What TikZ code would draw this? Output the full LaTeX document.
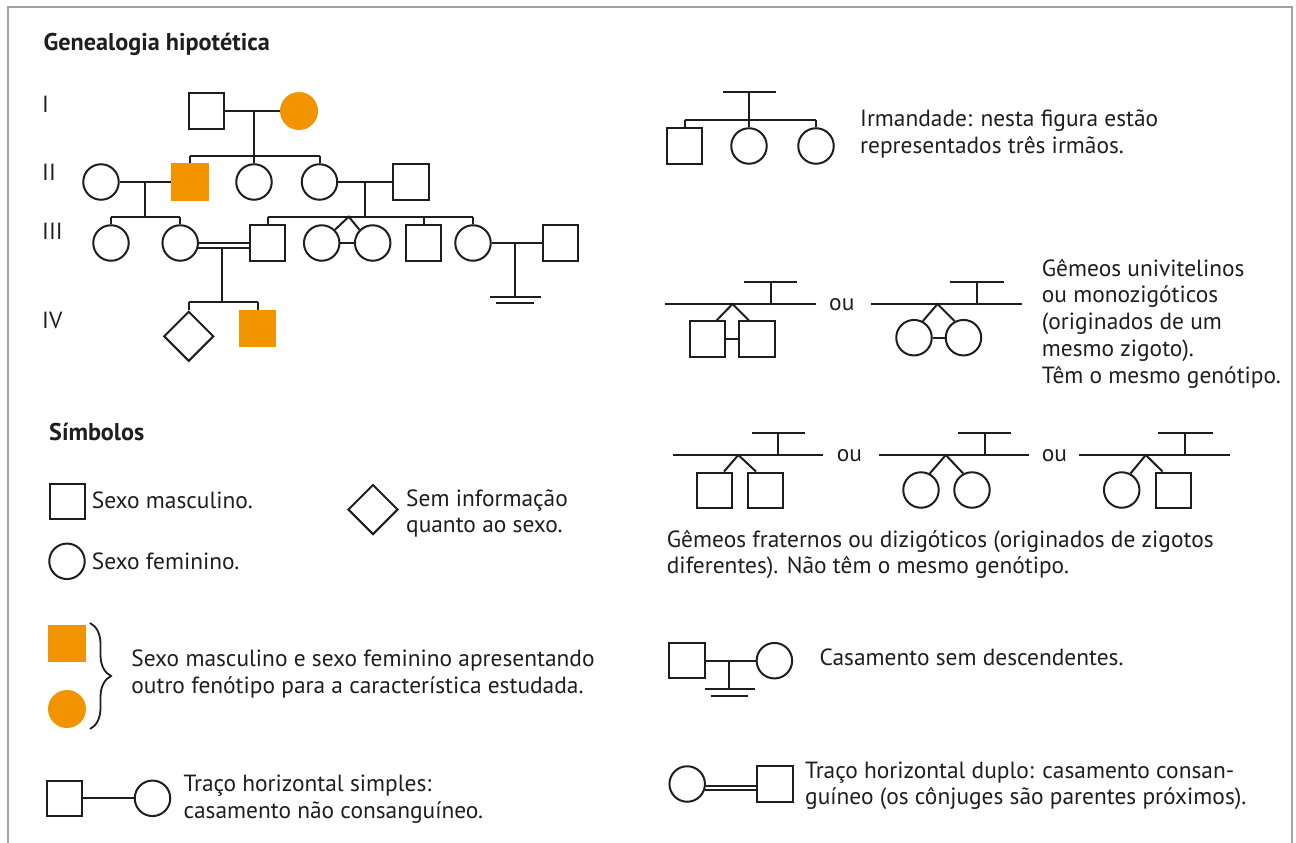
\documentclass[tikz,border=0pt]{standalone}
\usepackage{fontspec}
\setmainfont{PT Sans}
\usetikzlibrary{shapes.geometric,calc,decorations.pathreplacing}
\definecolor{ink}{RGB}{30,30,30}
\definecolor{framegray}{RGB}{163,163,163}
\definecolor{affected}{RGB}{242,148,0}
\tikzset{
  ln/.style={draw=ink,line width=2pt},
  male/.style={rectangle,draw=ink,line width=2pt,minimum size=35.5pt,inner sep=0pt},
  female/.style={circle,draw=ink,line width=2pt,minimum size=35.5pt,inner sep=0pt},
  unknown/.style={diamond,aspect=1,draw=ink,line width=2pt,minimum size=50pt,inner sep=0pt},
  affm/.style={rectangle,fill=affected,minimum size=37.5pt,inner sep=0pt},
  afff/.style={circle,fill=affected,minimum size=38pt,inner sep=0pt},
  txt/.style={anchor=base west,inner sep=0pt,font=\fontsize{23.4}{28}\selectfont,text=ink},
  head/.style={anchor=base west,inner sep=0pt,font=\fontsize{24.2}{29}\selectfont\bfseries,text=ink},
}
\begin{document}
\begin{tikzpicture}[x=1pt,y=-1pt]
\useasboundingbox (0,0) rectangle (1296,843);
% open frame
\draw[framegray,line width=2pt] (8.3,843) -- (8.3,6.7) -- (1292.3,6.7) -- (1292.3,843);

% ---------------- pedigree ----------------
\node[head] (title) at (43.5,51) {Genealogia hipotética};
\node[txt] (gI)   at (42,112.7) {I};
\node[txt] (gII)  at (42,180)   {II};
\node[txt] (gIII) at (42,239.3) {III};
\node[txt] (gIV)  at (42,328.3) {IV};

% generation I
\node[male] (p1) at (206.5,111) {};
\node[afff] (p2) at (299,111) {};
\draw[ln] (p1.east) -- (p2.west);
\coordinate (m1) at (254,111);
\coordinate (s1) at (254,156);
\draw[ln] (m1) -- (s1);

% generation II
\node[female] (q1) at (101,182) {};
\node[affm]   (q2) at (190,182) {};
\node[female] (q3) at (254,182) {};
\node[female] (q4) at (319.5,182) {};
\node[male]   (q5) at (411,182) {};
\draw[ln] (s1 -| q2) -- (s1 -| q4);
\draw[ln] (q2.north) -- (q2.north |- s1);
\draw[ln] (q3.north) -- (q3.north |- s1);
\draw[ln] (q4.north) -- (q4.north |- s1);
\draw[ln] (q1.east) -- (q2.west);
\draw[ln] (q4.east) -- (q5.west);
\coordinate (m2) at (145,182);
\coordinate (s2) at (145,216.7);
\coordinate (m3) at (364.6,182);
\coordinate (s3) at (364.6,216.7);
\draw[ln] (m2) -- (s2);
\draw[ln] (m3) -- (s3);

% generation III
\node[female] (r1) at (111,243) {};
\node[female] (r2) at (180.2,243) {};
\node[male]   (r3) at (267.5,243) {};
\node[female] (r4) at (321.7,243) {};
\node[female] (r5) at (372.7,243) {};
\node[male]   (r6) at (423.7,243) {};
\node[female] (r7) at (473,243) {};
\node[male]   (r8) at (560.4,243) {};
\draw[ln] (s2 -| r1) -- (s2 -| r2);
\draw[ln] (r1.north) -- (r1.north |- s2);
\draw[ln] (r2.north) -- (r2.north |- s2);
\draw[ln] (s3 -| r3) -- (s3 -| r7);
\draw[ln] (r3.north) -- (r3.north |- s3);
\draw[ln] (r6.north) -- (r6.north |- s3);
\draw[ln] (r7.north) -- (r7.north |- s3);
% identical twins
\coordinate (tw) at (348.75,216.7);
\draw[ln] (r4.45) -- (tw) -- (r5.135);
\draw[ln] (r4.east) -- (r5.west);
% consanguineous marriage
\draw[ln] (r2.east) -- (r3.west);
\draw[ln] (r2.-17) -- (r2.-17 -| r3.west);
\coordinate (m4) at (222.3,248.3);
\coordinate (s4) at (222.3,302.3);
\draw[ln] (m4) -- (s4);
% marriage without offspring
\draw[ln] (r7.east) -- (r8.west);
\coordinate (m5) at (515.4,243);
\coordinate (n5) at (515.4,296.7);
\draw[ln] (m5) -- (n5);
\draw[ln] (489.6,296.7) -- (540.8,296.7);
\draw[ln] (495.8,302.7) -- (533.8,302.7);

% generation IV
\node[unknown] (u1) at (188.75,336.3) {};
\node[affm]    (u2) at (257.7,328.5) {};
\draw[ln] (s4 -| u1) -- (s4 -| u2);
\draw[ln] (u1.north) -- (u1.north |- s4);
\draw[ln] (u2.north) -- (u2.north |- s4);

% ---------------- symbols ----------------
\node[head] (simb) at (49,440) {Símbolos};

\node[male] (lm) at (67.5,501.3) {};
\node[txt] (lmt) at (91.7,508.3) {Sexo masculino.};
\node[female] (lf) at (67,561.3) {};
\node[txt] (lft) at (91.7,569) {Sexo feminino.};
\node[unknown] (lu) at (373,509.5) {};
\node[txt] (lut1) at (406,506.7) {Sem informação};
\node[txt] (lut2) at (406,532.7) {quanto ao sexo.};

\node[affm] (la1) at (67.1,643.5) {};
\node[afff] (la2) at (67,709) {};
\coordinate (br1) at (90,623);
\coordinate (br2) at (90,729);
\draw[ln,line width=1.8pt,decorate,decoration={brace,amplitude=21pt,aspect=0.5}] (br1) -- (br2);
\node[txt] (lat1) at (131.25,666.7) {Sexo masculino e sexo feminino apresentando};
\node[txt] (lat2) at (131.25,693.3) {outro fenótipo para a característica estudada.};

\node[male] (sm1) at (64.6,798.3) {};
\node[female] (sm2) at (152.5,798.3) {};
\draw[ln] (sm1.east) -- (sm2.west);
\node[txt] (smt1) at (183.3,791.7) {Traço horizontal simples:};
\node[txt] (smt2) at (183.3,818.3) {casamento não consanguíneo.};

% sibship
\node[male]   (ir1) at (684.6,146) {};
\node[female] (ir2) at (749,146) {};
\node[female] (ir3) at (816,146) {};
\coordinate (irb1) at (723,92.3);
\coordinate (irb2) at (776,92.3);
\coordinate (irm) at (749,92.3);
\coordinate (irs) at (749,120);
\draw[ln] (irb1) -- (irb2);
\draw[ln] (irm) -- (irs);
\draw[ln] (irs -| ir1) -- (irs -| ir3);
\draw[ln] (ir1.north) -- (ir1.north |- irs);
\draw[ln] (ir2.north) -- (ir2.north |- irs);
\draw[ln] (ir3.north) -- (ir3.north |- irs);
\node[txt] (irt1) at (860,126.7) {Irmandade: nesta figura estão};
\node[txt] (irt2) at (860,153.7) {representados três irmãos.};

% identical twins, two boys
\node[male] (ia) at (707.5,339) {};
\node[male] (ib) at (757,339) {};
\coordinate (iab1) at (743.75,281.7);
\coordinate (iab2) at (797,281.7);
\coordinate (iam) at (770.8,281.7);
\coordinate (ial1) at (664.6,304);
\coordinate (ial2) at (815.8,304);
\coordinate (iax) at (732.5,304);
\draw[ln] (iab1) -- (iab2);
\draw[ln] (iam) -- (iam |- ial1);
\draw[ln] (ial1) -- (ial2);
\draw[ln] ($(ia.north)+(9.2,0)$) -- (iax) -- ($(ib.north)+(-8.25,0)$);
\draw[ln] (ia.east) -- (ib.west);
\node[txt] (ou1) at (829,310) {ou};
% identical twins, two girls
\node[female] (ic) at (914,337.7) {};
\node[female] (id) at (963.5,337.7) {};
\coordinate (icb1) at (950,281.7);
\coordinate (icb2) at (1004,281.7);
\coordinate (icm) at (977,281.7);
\coordinate (icl1) at (870.8,304);
\coordinate (icl2) at (1022,304);
\coordinate (icx) at (937.5,304);
\draw[ln] (icb1) -- (icb2);
\draw[ln] (icm) -- (icm |- icl1);
\draw[ln] (icl1) -- (icl2);
\draw[ln] (ic.62) -- (icx) -- (id.118);
\draw[ln] (ic.east) -- (id.west);
\node[txt] (idt1) at (1041.7,276)   {Gêmeos univitelinos};
\node[txt] (idt2) at (1041.7,302.7) {ou monozigóticos};
\node[txt] (idt3) at (1041.7,329.5) {(originados de um};
\node[txt] (idt4) at (1041.7,356.2) {mesmo zigoto).};
\node[txt] (idt5) at (1041.7,383)   {Têm o mesmo genótipo.};

% fraternal twins, two boys
\node[male] (fa) at (714.5,490.3) {};
\node[male] (fb) at (765.4,490.3) {};
\coordinate (fab1) at (752,432.7);
\coordinate (fab2) at (805.4,432.7);
\coordinate (fam) at (778.3,432.7);
\coordinate (fal1) at (673,455);
\coordinate (fal2) at (823,455);
\coordinate (fax) at (738.3,455);
\draw[ln] (fab1) -- (fab2);
\draw[ln] (fam) -- (fam |- fal1);
\draw[ln] (fal1) -- (fal2);
\draw[ln] ($(fa.north)+(9.5,0)$) -- (fax) -- ($(fb.north)+(-9.4,0)$);
\node[txt] (ou2) at (836.7,461) {ou};
% fraternal twins, two girls
\node[female] (fc) at (921,490) {};
\node[female] (fd) at (972,490) {};
\coordinate (fcb1) at (957.5,432.7);
\coordinate (fcb2) at (1011,432.7);
\coordinate (fcm) at (984.6,432.7);
\coordinate (fcl1) at (879,455);
\coordinate (fcl2) at (1029,455);
\coordinate (fcx) at (945.8,455);
\draw[ln] (fcb1) -- (fcb2);
\draw[ln] (fcm) -- (fcm |- fcl1);
\draw[ln] (fcl1) -- (fcl2);
\draw[ln] (fc.62) -- (fcx) -- (fd.118);
\node[txt] (ou3) at (1041.7,461) {ou};
% fraternal twins, girl and boy
\node[female] (fe) at (1121.7,490) {};
\node[male]   (ff) at (1173.3,490.3) {};
\coordinate (feb1) at (1158,432.7);
\coordinate (feb2) at (1212.5,432.7);
\coordinate (fem) at (1185.4,432.7);
\coordinate (fel1) at (1079,455);
\coordinate (fel2) at (1230,455);
\coordinate (fex) at (1145.8,455);
\draw[ln] (feb1) -- (feb2);
\draw[ln] (fem) -- (fem |- fel1);
\draw[ln] (fel1) -- (fel2);
\draw[ln] (fe.62) -- (fex) -- ($(ff.north)+(-10.8,0)$);
\node[txt] (frt1) at (666.7,547) {Gêmeos fraternos ou dizigóticos (originados de zigotos};
\node[txt] (frt2) at (666.7,573) {diferentes). Não têm o mesmo genótipo.};

% marriage without offspring
\node[male]   (na) at (687.2,660.7) {};
\node[female] (nb) at (774.4,660.7) {};
\draw[ln] (na.east) -- (nb.west);
\coordinate (nm) at (729.3,660.7);
\coordinate (nn) at (729.3,689.3);
\draw[ln] (nm) -- (nn);
\draw[ln] (704.5,689.3) -- (755.4,689.3);
\draw[ln] (710.7,696) -- (748.3,696);
\node[txt] (nt) at (819.4,665) {Casamento sem descendentes.};

% consanguineous marriage
\node[female] (ca) at (687.2,784) {};
\node[male]   (cb) at (775.2,784) {};
\draw[ln] (ca.-5) -- (ca.-5 -| cb.west);
\draw[ln] (ca.-20) -- (ca.-20 -| cb.west);
\node[txt] (ct1) at (805,778.3) {Traço horizontal duplo: casamento consan-};
\node[txt] (ct2) at (805,804.3) {guíneo (os cônjuges são parentes próximos).};
\end{tikzpicture}
\end{document}
